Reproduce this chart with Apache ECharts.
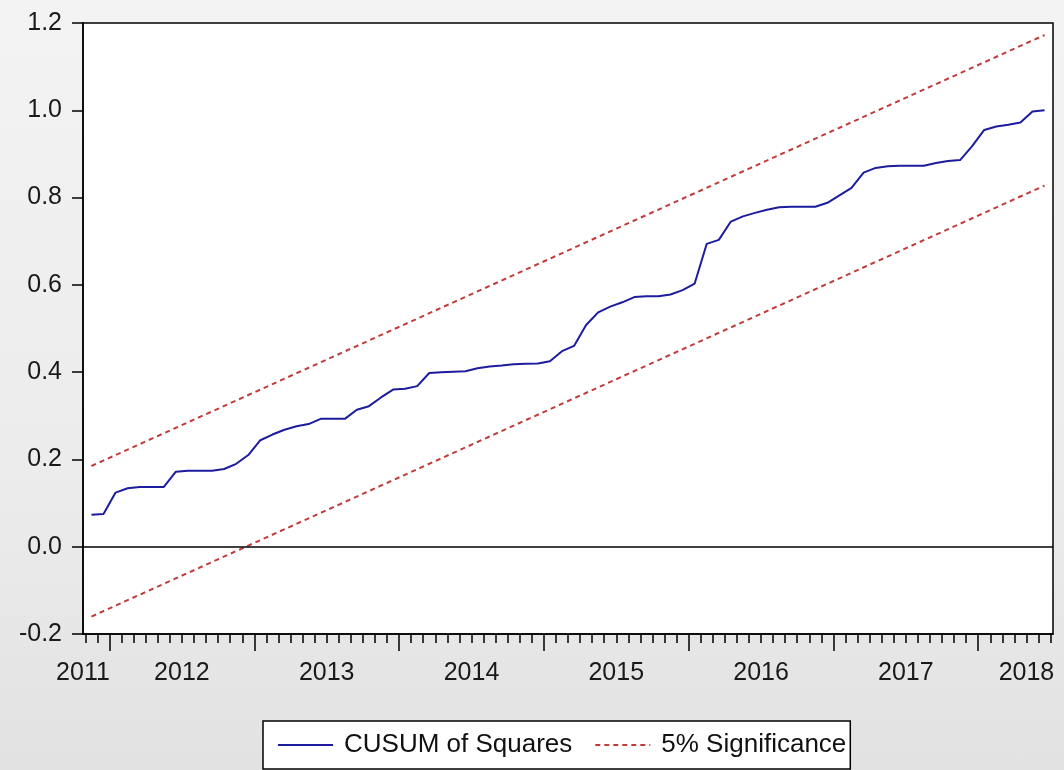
<!DOCTYPE html>
<html>
<head>
<meta charset="utf-8">
<script src="https://cdn.jsdelivr.net/npm/echarts@6/dist/echarts.min.js"></script>
<style>
html,body{margin:0;padding:0;}
#chart{width:1064px;height:770px;background:linear-gradient(to bottom,#f3f3f3 0%,#ececec 60%,#e2e2e2 100%);}
</style>
</head>
<body>
<div id="chart"></div>
<script>
// ---- data ----
const startYear = 2011;
const startMonth = 11; // first observation: 2011M11
const cusumSq = [
  0.073, 0.075, 0.124, 0.134, 0.137, 0.137, 0.137, 0.172, 0.174, 0.174,
  0.174, 0.178, 0.190, 0.210, 0.244, 0.257, 0.268, 0.276, 0.281, 0.293,
  0.293, 0.293, 0.314, 0.322, 0.342, 0.360, 0.362, 0.368, 0.398, 0.400,
  0.401, 0.402, 0.409, 0.413, 0.415, 0.418, 0.419, 0.420, 0.425, 0.448,
  0.460, 0.508, 0.537, 0.550, 0.560, 0.572, 0.574, 0.574, 0.578, 0.588,
  0.603, 0.694, 0.703, 0.745, 0.757, 0.765, 0.772, 0.778, 0.779, 0.779,
  0.779, 0.788, 0.805, 0.822, 0.857, 0.868, 0.872, 0.873, 0.873, 0.873,
  0.879, 0.884, 0.886, 0.918, 0.955, 0.963, 0.967, 0.972, 0.997, 1.000
];
const upperBound = [0.185, 1.1725];   // first and last observation
const lowerBound = [-0.160, 0.8275];  // first and last observation
const yearLabels = ['2011','2012','2013','2014','2015','2016','2017','2018'];
const yTicks = [-0.2, 0.0, 0.2, 0.4, 0.6, 0.8, 1.0, 1.2];

// ---- derived positions on the month scale (0 = start of Jan 2011) ----
const n = cusumSq.length;
const firstIdx = (startYear - 2011) * 12 + (startMonth - 1);
const xOf = i => firstIdx + i + 0.5;
const cusumData = cusumSq.map((v, i) => [xOf(i), v]);
const upperData = [[xOf(0), upperBound[0]], [xOf(n - 1), upperBound[1]]];
const lowerData = [[xOf(0), lowerBound[0]], [xOf(n - 1), lowerBound[1]]];
const xMin = firstIdx - 0.2, xMax = firstIdx + n + 0.2;
const monthBounds = [];
for (let m = firstIdx; m <= firstIdx + n; m++) monthBounds.push(m);
const yearBounds = monthBounds.filter(m => m % 12 === 0 && m > firstIdx && m < firstIdx + n);
const labelPos = yearLabels.map((y, k) => {
  const a = Math.max(k * 12, firstIdx), b = Math.min(k * 12 + 12, firstIdx + n);
  if (k === 0) return xMin;
  if (k === yearLabels.length - 1) return b - 2;
  return (a + b) / 2;
});
const labelMap = {};
labelPos.forEach((p, k) => labelMap[p] = yearLabels[k]);

const font = 'Liberation Sans, Arial, sans-serif';
const chart = echarts.init(document.getElementById('chart'));
chart.setOption({
  backgroundColor: 'transparent',
  animation: false,
  grid: {left: 83, right: 11, top: 23, bottom: 136, show: true,
         backgroundColor: '#ffffff', borderColor: '#000', borderWidth: 1.5},
  xAxis: [{
    type: 'value', min: xMin, max: xMax, position: 'bottom',
    axisLine: {show: true, onZero: false, lineStyle: {color: '#000', width: 1.5}},
    axisTick: {show: true, customValues: monthBounds, length: 9, lineStyle: {color: '#000', width: 1.5}},
    axisLabel: {show: false}, splitLine: {show: false}
  }, {
    type: 'value', min: xMin, max: xMax, position: 'bottom',
    axisLine: {show: false, onZero: false},
    axisTick: {show: true, customValues: yearBounds, length: 17, lineStyle: {color: '#000', width: 1.5}},
    axisLabel: {show: true, customValues: labelPos, margin: 27, fontSize: 25, fontFamily: font, color: '#1a1a1a',
                formatter: v => labelMap[v] || ''},
    splitLine: {show: false}
  }],
  yAxis: {
    type: 'value', min: -0.2, max: 1.2, interval: 0.2,
    axisLine: {show: true, onZero: false, lineStyle: {color: '#000', width: 1.5}},
    axisTick: {show: true, length: 11, lineStyle: {color: '#000', width: 1.5}},
    axisLabel: {margin: 21, fontSize: 25, fontFamily: font, color: '#1a1a1a', formatter: v => v.toFixed(1)},
    splitLine: {show: false}
  },
  legend: {
    left: 263, top: 721, orient: 'horizontal',
    padding: [11, 4, 11, 14], itemGap: 22, itemWidth: 55, itemHeight: 14,
    backgroundColor: '#fff', borderColor: '#000', borderWidth: 1.5, borderRadius: 0,
    itemStyle: {opacity: 0},
    textStyle: {fontSize: 26, fontFamily: font, color: '#111', padding: [0, 0, 0, 6]},
    data: ['CUSUM of Squares', '5% Significance']
  },
  series: [{
    name: 'CUSUM of Squares', type: 'line', data: cusumData, symbol: 'none',
    lineStyle: {color: '#1c1c9e', width: 2}, itemStyle: {color: '#1c1c9e'}, z: 5,
    markLine: {silent: true, symbol: 'none', label: {show: false},
               lineStyle: {color: '#000', width: 1.5, type: 'solid'}, data: [{yAxis: 0}]}
  }, {
    name: '5% Significance', type: 'line', data: upperData, symbol: 'none',
    lineStyle: {color: '#c23b3b', width: 2, type: [5, 4]}, itemStyle: {color: '#c23b3b'}
  }, {
    name: '5% Significance', type: 'line', data: lowerData, symbol: 'none',
    lineStyle: {color: '#c23b3b', width: 2, type: [5, 4]}, itemStyle: {color: '#c23b3b'}
  }]
});
</script>
</body>
</html>
